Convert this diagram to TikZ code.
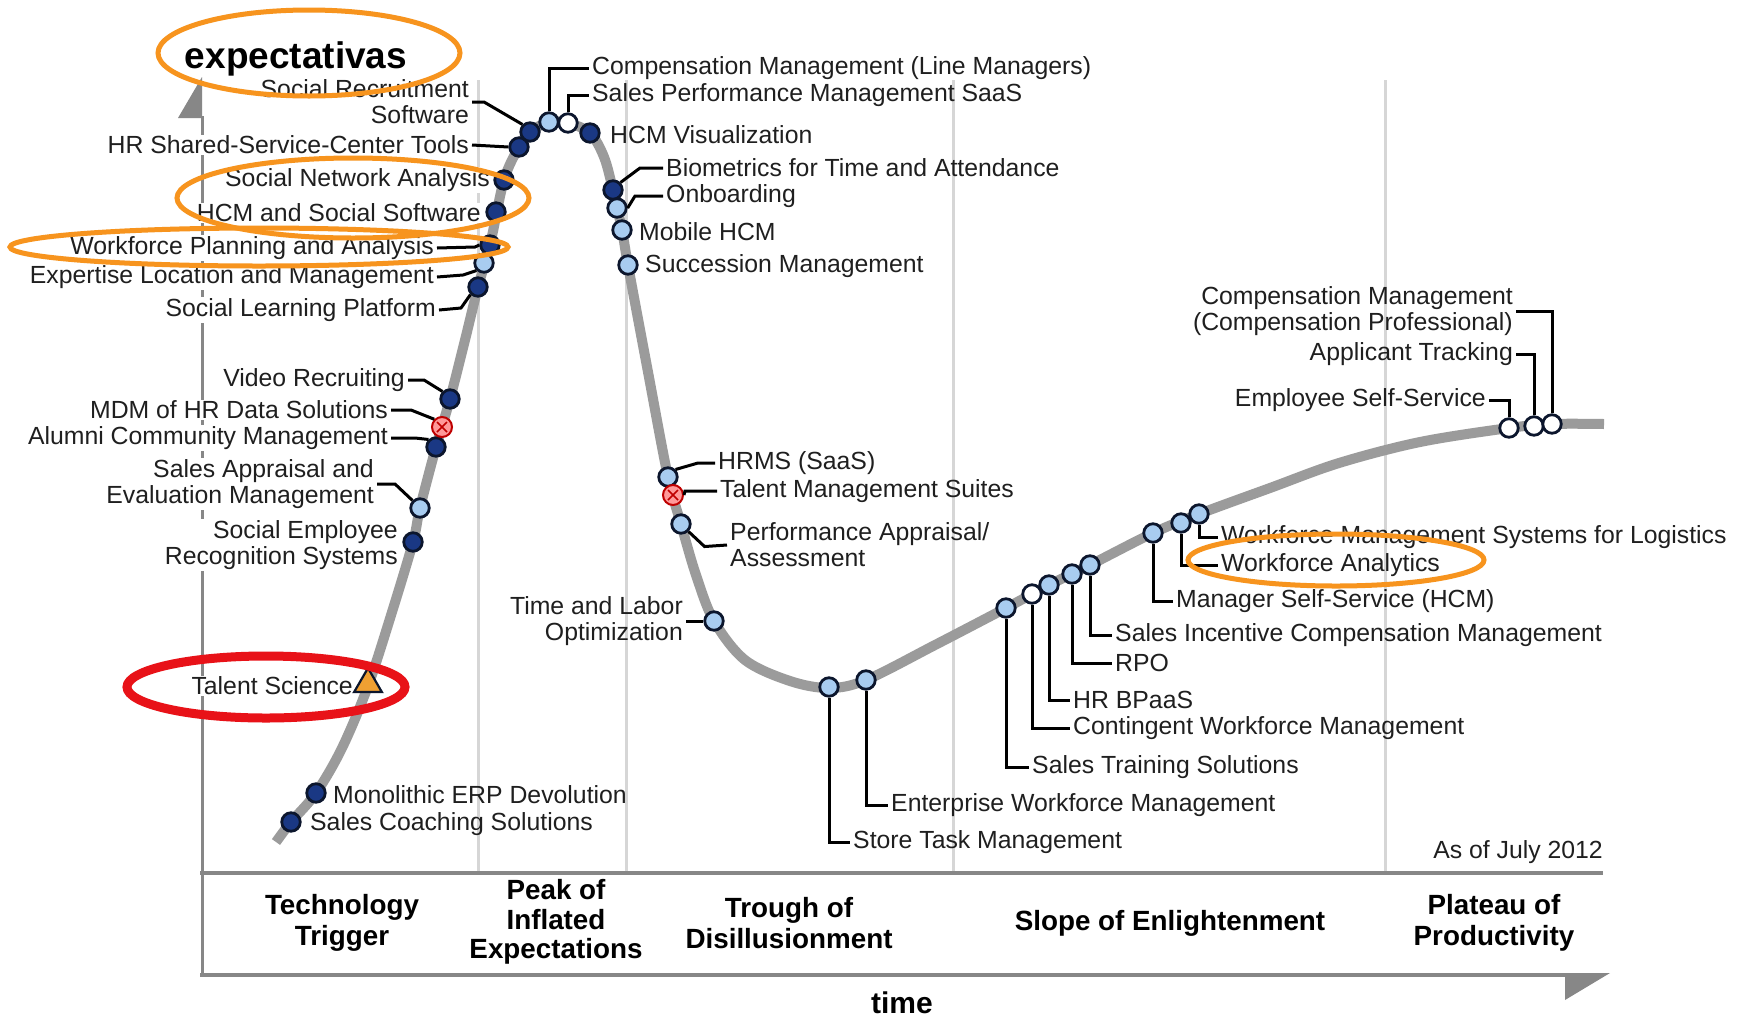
\documentclass[tikz,border=0pt]{standalone}
\usepackage{fontspec}
\setmainfont{Liberation Sans}
\usetikzlibrary{shapes.geometric}
\definecolor{dotline}{RGB}{12,22,45}
\definecolor{darkfill}{RGB}{26,56,132}
\definecolor{lightfill}{RGB}{168,204,240}
\definecolor{curvegray}{RGB}{155,155,155}
\definecolor{axisgray}{RGB}{135,135,135}
\definecolor{divgray}{RGB}{214,214,214}
\definecolor{hlorange}{RGB}{247,148,30}
\definecolor{hlred}{RGB}{232,18,24}
\definecolor{tsorange}{RGB}{240,160,50}
\tikzset{
 lbl/.style={font=\fontsize{24.8}{26}\selectfont, inner xsep=3pt, inner ysep=1pt, text=black!88},
 lblL/.style={lbl, anchor=east, align=right, fill=white},
 lblR/.style={lbl, anchor=west, align=left},
 phase/.style={font=\bfseries\fontsize{27.8}{31}\selectfont, align=center, inner sep=0pt},
 dotbase/.style={circle, minimum size=18.5pt, inner sep=0pt, line width=2.8pt, draw=dotline},
 dk/.style={dotbase, fill=darkfill},
 lt/.style={dotbase, fill=lightfill},
 wt/.style={dotbase, fill=white},
 rd/.style={circle, minimum size=20pt, inner sep=0pt, line width=2pt, draw=red!75!black, fill=red!40!white,
   path picture={\draw[red!75!black, line width=1.5pt]
     ([shift={(-5pt,-5pt)}]path picture bounding box.center) -- ([shift={(5pt,5pt)}]path picture bounding box.center)
     ([shift={(-5pt,5pt)}]path picture bounding box.center) -- ([shift={(5pt,-5pt)}]path picture bounding box.center);}},
 tri/.style={regular polygon, regular polygon sides=3, minimum size=32pt, inner sep=0pt, fill=tsorange, draw=dotline, line width=2.2pt},
 conn/.style={draw=black, line width=3pt},
 hypecurve/.style={draw=curvegray, line width=10pt},
 hl/.style={draw=hlorange, line width=5pt},
}
\begin{document}
\begin{tikzpicture}[x=1pt,y=-1pt]
\useasboundingbox (0,0) rectangle (1750,1018);
\fill[white] (0,0) rectangle (1750,1018);

% phase dividers
\foreach \xx in {478,626,953,1385} \draw[divgray, line width=3pt] (\xx,80) -- (\xx,873);

% axes
\fill[axisgray] (178,118) -- (202,77) -- (202,118) -- cycle;
\draw[axisgray, line width=3pt] (202,116) -- (202,975);
\draw[axisgray, line width=4pt] (200,873) -- (1603,873);
\draw[axisgray, line width=4pt] (200,975) -- (1570,975);
\fill[axisgray] (1565,973) -- (1610,973) -- (1565,1000) -- cycle;

% phase labels
\node[phase] (pTT) at (342,923) {Technology\\Trigger};
\node[phase, font=\bfseries\fontsize{27.8}{29.5}\selectfont] (pPI) at (556,922) {Peak of\\Inflated\\Expectations};
\node[phase] (pTD) at (789,923) {Trough of\\Disillusionment};
\node[phase] (pSE) at (1170,923) {Slope of Enlightenment};
\node[phase] (pPP) at (1494,923) {Plateau of\\Productivity};
\node[font=\bfseries\fontsize{30}{32}\selectfont, inner sep=0pt] (time) at (902,1003) {time};
\node[lbl, anchor=east] (asof) at (1606,852) {As of July 2012};

% left labels
\node[lblL] (lSR) at (472,102) {Social Recruitment\\Software};
\node[lblL] (lHR) at (472,145) {HR Shared-Service-Center Tools};
\node[lblL] (lSNA) at (493,180) {Social Network Analysis};
\node[lblL] (lHCM) at (484,213) {HCM and Social Software};
\node[lblL] (lWP) at (437,248) {Workforce Planning and Analysis};
\node[lblL] (lWE) at (437,277) {Expertise Location and Management};
\node[lblL] (lSL) at (439,310) {Social Learning Platform};
\node[lblL] (lVR) at (408,380) {Video Recruiting};
\node[lblL] (lMDM) at (391,410) {MDM of HR Data Solutions};
\node[lblL] (lAC) at (391,438) {Alumni Community Management};
\node[lblL] (lSA) at (377,484) {Sales Appraisal and\\Evaluation Management};
\node[lblL] (lSE) at (401,545) {Social Employee\\Recognition Systems};
\node[lblL] (lTS) at (356,686) {Talent Science};
\node[lblR] (lMon) at (330,795) {Monolithic ERP Devolution};
\node[lblR] (lSC) at (307,824) {Sales Coaching Solutions};

% right labels
\node[lblR] (lCL) at (589,68) {Compensation Management (Line Managers)};
\node[lblR] (lSP) at (589,95) {Sales Performance Management SaaS};
\node[lblR] (lHV) at (607,135) {HCM Visualization};
\node[lblR] (lBio) at (663,168) {Biometrics for Time and Attendance};
\node[lblR] (lOn) at (663,196) {Onboarding};
\node[lblR] (lMH) at (636,232) {Mobile HCM};
\node[lblR] (lSM) at (642,266) {Succession Management};
\node[lblR] (lHRMS) at (715,463) {HRMS (SaaS)};
\node[lblR] (lTMS) at (717,491) {Talent Management Suites};
\node[lblR] (lPA) at (727,545) {Performance Appraisal/\\Assessment};
\node[lbl, anchor=east, align=right] (lTL) at (686,621) {Time and Labor\\Optimization};
\node[lblR] (lST) at (850,842) {Store Task Management};
\node[lblR] (lEW) at (888,805) {Enterprise Workforce Management};
\node[lblR] (lTr) at (1029,767) {Sales Training Solutions};
\node[lblR] (lCW) at (1070,728) {Contingent Workforce Management};
\node[lblR] (lBP) at (1070,700) {HR BPaaS};
\node[lblR] (lRPO) at (1112,663) {RPO};
\node[lblR] (lSI) at (1112,635) {Sales Incentive Compensation Management};
\node[lblR] (lMS) at (1173,601) {Manager Self-Service (HCM)};
\node[lblR] (lWMS) at (1218,537) {Workforce Management Systems for Logistics};
\node[lblR] (lWA) at (1218,565) {Workforce Analytics};
\node[lbl, anchor=east, align=right] (lCP) at (1516,311) {Compensation Management\\(Compensation Professional)};
\node[lbl, anchor=east] (lAT) at (1516,354) {Applicant Tracking};
\node[lbl, anchor=east] (lESS) at (1489,400) {Employee Self-Service};

% hype curve
\draw[hypecurve] plot[smooth, tension=0.55] coordinates {
 (276,842) (291,822) (316,793) (342,748) (368,686) (392,612) (413,542) (420,508)
 (436,447) (450,399) (465,340) (478,287) (490,245) (504,180) (519,147) (530,132)
 (549,122) (568,123) (590,133) (604,157) (613,190) (622,230) (628,265) (648,372)
 (668,477) (681,524) (696,575) (714,621) (745,660) (790,681) (829,688) (866,680)
 (935,645) (1006,608) (1049,585) (1090,565) (1153,533) (1199,514) (1270,488)
 (1339,463) (1420,442) (1509,428) (1552,424) (1604,424)};

% dots
\node[dk] (dSC) at (291,822) {};
\node[dk] (dMon) at (316,793) {};
\node[tri] (dTS) at (368,684) {};
\node[dk] (dSE) at (413,542) {};
\node[lt] (dSA) at (420,508) {};
\node[dk] (dAC) at (436,447) {};
\node[rd] (dMDM) at (442,427) {};
\node[dk] (dVR) at (450,399) {};
\node[dk] (dSL) at (478,287) {};
\node[lt] (dWE) at (484,263) {};
\node[dk] (dWP) at (490,245) {};
\node[dk] (dHCM) at (496,212) {};
\node[dk] (dSNA) at (504,180) {};
\node[dk] (dHR) at (519,147) {};
\node[dk] (dSR) at (530,132) {};
\node[lt] (dCL) at (549,122) {};
\node[wt] (dSP) at (568,123) {};
\node[dk] (dHV) at (590,133) {};
\node[dk] (dBio) at (613,190) {};
\node[lt] (dOn) at (617,208) {};
\node[lt] (dMH) at (622,230) {};
\node[lt] (dSM) at (628,265) {};
\node[lt] (dHRMS) at (668,477) {};
\node[rd] (dTMS) at (673,495) {};
\node[lt] (dPA) at (681,524) {};
\node[lt] (dTL) at (714,621) {};
\node[lt] (dST) at (829,687) {};
\node[lt] (dEW) at (866,680) {};
\node[lt] (dTr) at (1006,608) {};
\node[wt] (dCW) at (1032,594) {};
\node[lt] (dBP) at (1049,585) {};
\node[lt] (dRPO) at (1072,574) {};
\node[lt] (dSI) at (1090,565) {};
\node[lt] (dMS) at (1153,533) {};
\node[lt] (dWA) at (1181,523) {};
\node[lt] (dWMS) at (1199,514) {};
\node[wt] (dESS) at (1509,428) {};
\node[wt] (dAT) at (1534,426) {};
\node[wt] (dCP) at (1552,424) {};

% connectors
\draw[conn] (lSR.east) -- ++(12,0) -- (dSR.north west);
\draw[conn] (lHR.east) -- (dHR.west);
\draw[conn] (lWP.east) -- ++(38,-1) -- (dWP.west);
\draw[conn] (lWE.east) -- ++(26,-2) -- (dWE.south west);
\draw[conn] (lSL.east) -- ++(22,-2) -- (dSL.south west);
\draw[conn] (lVR.east) -- ++(16,0) -- (dVR.north west);
\draw[conn] (lMDM.east) -- ++(20,0) -- (dMDM.north west);
\draw[conn] (lAC.east) -- ++(24,0) -- (dAC.north west);
\draw[conn] (lSA.east) -- ++(18,0) -- (dSA.north west);
\draw[conn] (dCL.north) |- (lCL.west);
\draw[conn] (dSP.north) |- (lSP.west);
\draw[conn] (lBio.west) -- ++(-23,0) -- (dBio.north east);
\draw[conn] (lOn.west) -- ++(-28,0) -- (dOn.east);
\draw[conn] (lHRMS.west) -- ++(-17,0) -- (dHRMS.north east);
\draw[conn] (lTMS.west) -- ++(-32,0) -- (dTMS.east);
\draw[conn] (dPA.south east) -- ++(16,15) -- (lPA.west);
\draw[conn] (lTL.east) -- (dTL.west);
\draw[conn] (dST.south) |- (lST.west);
\draw[conn] (dEW.south) |- (lEW.west);
\draw[conn] (dTr.south) |- (lTr.west);
\draw[conn] (dCW.south) |- (lCW.west);
\draw[conn] (dBP.south) |- (lBP.west);
\draw[conn] (dRPO.south) |- (lRPO.west);
\draw[conn] (dSI.south) |- (lSI.west);
\draw[conn] (dMS.south) |- (lMS.west);
\draw[conn] (dWA.south) |- (lWA.west);
\draw[conn] (dWMS.south) |- (lWMS.west);
\draw[conn] (dESS.north) |- (lESS.east);
\draw[conn] (dAT.north) |- (lAT.east);
\draw[conn] (dCP.north) |- (lCP.east);

% highlight ellipses
\draw[hl] (309,53) ellipse [x radius=151pt, y radius=43pt];
\draw[hl] (353,198) ellipse [x radius=176pt, y radius=40pt];
\draw[hl] (259,247) ellipse [x radius=249pt, y radius=19pt];
\draw[hl] (1336,560) ellipse [x radius=148pt, y radius=26pt];
\draw[draw=hlred, line width=9pt] (266,687) ellipse [x radius=139pt, y radius=31pt];

\node[font=\bfseries\fontsize{37}{40}\selectfont, inner sep=0pt, anchor=base] (exp) at (296,68) {expectativas};
\end{tikzpicture}
\end{document}
